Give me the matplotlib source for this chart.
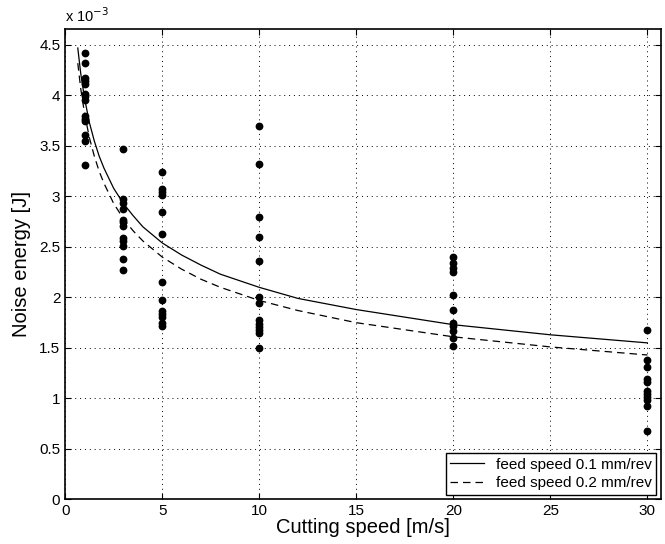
import matplotlib
matplotlib.use("Agg")
import matplotlib.pyplot as plt

plt.rcParams['font.family'] = ['Liberation Sans', 'DejaVu Sans']

# measured noise energy (units of 1e-3 J) per cutting speed [m/s]
speeds = [1, 3, 5, 10, 20, 30]
energy = {
    1: [4.42, 4.32, 4.17, 4.14, 4.11, 4.01, 3.99, 3.96, 3.80, 3.77, 3.75, 3.61, 3.55, 3.31],
    3: [3.47, 2.97, 2.94, 2.88, 2.77, 2.75, 2.71, 2.59, 2.56, 2.51, 2.38, 2.27],
    5: [3.24, 3.07, 3.04, 3.01, 2.85, 2.63, 2.15, 1.97, 1.87, 1.84, 1.81, 1.75, 1.72],
    10: [3.70, 3.32, 2.80, 2.60, 2.36, 2.00, 1.94, 1.78, 1.74, 1.71, 1.68, 1.65, 1.50],
    20: [2.40, 2.34, 2.29, 2.25, 2.02, 1.88, 1.75, 1.72, 1.67, 1.60, 1.52],
    30: [1.68, 1.38, 1.31, 1.19, 1.16, 1.07, 1.04, 1.01, 0.98, 0.92, 0.68],
}

# fitted curves
curve_x = [0.65, 0.8, 1, 1.25, 1.5, 1.75, 2, 2.5, 3, 3.5, 4, 5, 6, 7, 8, 10, 12, 15, 20, 25, 30]
feed_01 = [4.47, 4.22, 3.97, 3.73, 3.55, 3.40, 3.28, 3.08, 2.93, 2.81, 2.70, 2.54, 2.42, 2.32, 2.23,
           2.10, 1.99, 1.88, 1.73, 1.63, 1.55]
feed_02 = [4.32, 4.07, 3.82, 3.58, 3.40, 3.25, 3.13, 2.93, 2.78, 2.66, 2.56, 2.40, 2.28, 2.18, 2.10,
           1.97, 1.87, 1.75, 1.61, 1.51, 1.43]

fig = plt.figure(figsize=(6.65, 5.44), dpi=100)
ax = fig.add_axes([0.098, 0.082, 0.896, 0.865])

for s in speeds:
    ax.plot([s] * len(energy[s]), energy[s], 'o', color='black', markersize=4.6, zorder=3)

ax.plot(curve_x, feed_01, '-', color='black', linewidth=0.9, label='feed speed 0.1 mm/rev')
ax.plot(curve_x, feed_02, color='black', linewidth=0.9, linestyle=(0, (6, 4)),
        label='feed speed 0.2 mm/rev')

ax.set_xlim(0, 30.7)
ax.set_ylim(0, 4.66)
ax.set_xticks([0, 5, 10, 15, 20, 25, 30])
ax.set_yticks([0, 0.5, 1, 1.5, 2, 2.5, 3, 3.5, 4, 4.5])
ax.set_yticklabels(['0', '0.5', '1', '1.5', '2', '2.5', '3', '3.5', '4', '4.5'])
ax.grid(True, linestyle=(0, (1, 4)), color='black', linewidth=0.7)
ax.tick_params(direction='in', top=True, right=True, labelsize=11, length=4)
for sp in ax.spines.values():
    sp.set_linewidth(1.2)

ax.set_xlabel('Cutting speed [m/s]', fontsize=14.5, labelpad=0)
ax.set_ylabel('Noise energy [J]', fontsize=14.5, labelpad=6)
ax.text(0.0, 1.008, r'x 10$^{-3}$', transform=ax.transAxes, fontsize=10.5, va='bottom', ha='left')

leg = ax.legend(loc='lower right', fontsize=11, handlelength=2.2, fancybox=False,
                framealpha=1, edgecolor='black', borderaxespad=0.3, borderpad=0.3,
                labelspacing=0.3)
leg.get_frame().set_linewidth(1.0)

fig.savefig('out.png', dpi=100)
